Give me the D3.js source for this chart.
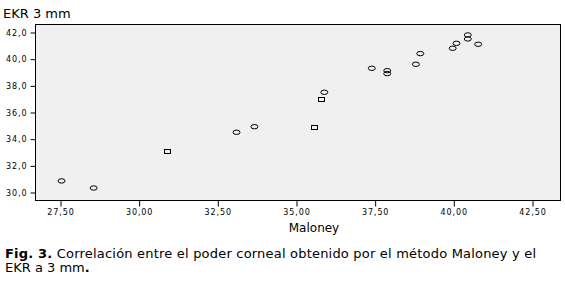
<!DOCTYPE html>
<html>
<head>
<meta charset="utf-8">
<script src="https://cdn.jsdelivr.net/npm/d3@7"></script>
<style>
  body { margin: 0; background: #fff; }
  text { font-family: "DejaVu Sans", Verdana, sans-serif; }
</style>
</head>
<body id="viz">
<script>
// Maloney (x) vs EKR 3 mm (y)
var circ_x = [27.55, 28.57, 33.11, 33.68, 35.90, 37.41, 37.90, 37.90, 38.81, 38.95, 39.98, 40.10, 40.46, 40.46, 40.79]
var circ_y = [30.83, 30.30, 34.48, 34.90, 37.48, 39.28, 39.10, 38.88, 39.58, 40.38, 40.78, 41.15, 41.78, 41.48, 41.08]
var sq_x = [30.89, 35.56, 35.79]
var sq_y = [33.10, 34.90, 36.98]

var x_ticks = [27.5, 30, 32.5, 35, 37.5, 40, 42.5]
var y_ticks = [30, 32, 34, 36, 38, 40, 42]

var svg_width = 565, svg_height = 289
var frame = {left: 35, right: 560, top: 24, bottom: 200}

var svg = d3.select("body#viz")
  .append("svg")
  .attr("width", svg_width)
  .attr("height", svg_height)

var x = d3.scaleLinear()
  .domain([26.706, 43.39])
  .range([frame.left, frame.right])

var y = d3.scaleLinear()
  .domain([29.4, 42.6])
  .range([frame.bottom, frame.top])

// plot background + frame
svg.append("rect")
  .attr("x", frame.left + 0.5)
  .attr("y", frame.top + 0.5)
  .attr("width", frame.right - frame.left)
  .attr("height", frame.bottom - frame.top)
  .attr("fill", "#f0f0f0")
  .attr("stroke", "#000")
  .attr("stroke-width", 1)

var comma = function(f) { return function(d) { return d3.format(f)(d).replace(".", ",") } }

// axes
var xAxis = svg.append("g")
  .attr("transform", "translate(0.5," + (frame.bottom + 0.5) + ")")
  .call(d3.axisBottom(x).tickValues(x_ticks).tickSize(6).tickPadding(3).tickFormat(comma(".2f")))
var yAxis = svg.append("g")
  .attr("transform", "translate(" + (frame.left + 0.5) + ",0.5)")
  .call(d3.axisLeft(y).tickValues(y_ticks).tickSize(5).tickPadding(3).tickFormat(comma(".1f")))

;[xAxis, yAxis].forEach(function(a) {
  a.select(".domain").remove()
  a.selectAll("line").attr("stroke", "#000")
  a.selectAll("text")
    .style("font-size", "8px")
    .style("letter-spacing", "0.9px")
    .attr("fill", "#000")
})

// markers
svg.append("g").selectAll("ellipse")
  .data(d3.zip(circ_x, circ_y))
  .enter().append("ellipse")
    .attr("cx", function(d) { return x(d[0]) })
    .attr("cy", function(d) { return y(d[1]) })
    .attr("rx", 3.5)
    .attr("ry", 2.2)
    .attr("fill", "none")
    .attr("stroke", "#000")
    .attr("stroke-width", 1)

svg.append("g").selectAll("rect")
  .data(d3.zip(sq_x, sq_y))
  .enter().append("rect")
    .attr("x", function(d) { return Math.round(x(d[0])) - 3 + 0.5 })
    .attr("y", function(d) { return Math.round(y(d[1])) - 2 + 0.5 })
    .attr("width", 6)
    .attr("height", 4)
    .attr("fill", "none")
    .attr("stroke", "#000")
    .attr("stroke-width", 1)

// titles
svg.append("text")
  .attr("x", 3)
  .attr("y", 18)
  .style("font-size", "13px")
  .text("EKR 3 mm")

svg.append("text")
  .attr("x", 314)
  .attr("y", 232)
  .attr("text-anchor", "middle")
  .style("font-size", "12px")
  .text("Maloney")

// caption
var cap1 = svg.append("text")
  .attr("x", 5)
  .attr("y", 258)
  .style("font-size", "13px")
  .style("letter-spacing", "0.2px")
cap1.append("tspan").style("font-weight", "bold").text("Fig. 3.")
cap1.append("tspan").text(" Correlación entre el poder corneal obtenido por el método Maloney y el")

var cap2 = svg.append("text")
  .attr("x", 5)
  .attr("y", 272)
  .style("font-size", "13px")
cap2.append("tspan").text("EKR a 3 mm")
cap2.append("tspan").style("font-weight", "bold").text(".")
</script>
</body>
</html>
